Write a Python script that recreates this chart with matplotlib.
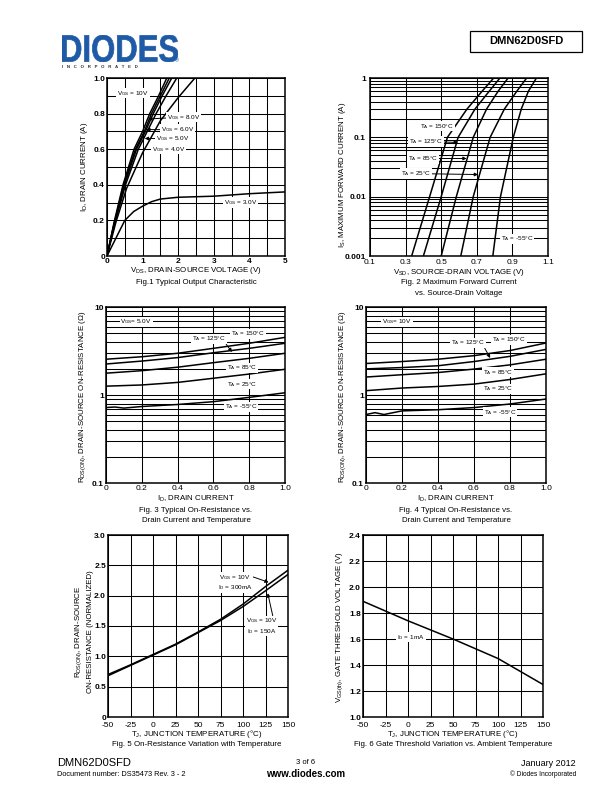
import numpy as np
import matplotlib.pyplot as plt
from matplotlib.patches import Rectangle, PathPatch
from matplotlib.textpath import TextPath
from matplotlib.font_manager import FontProperties

plt.rcParams['font.family'] = ['Liberation Sans', 'DejaVu Sans']
plt.rcParams['mathtext.default'] = 'regular'

W, H = 612, 792

# Fig 1 - typical output characteristic (VDS in V, ID in A)
vgs10_x = [0, 0.2, 0.45, 0.76, 1.0, 1.2, 1.45, 1.68]
vgs10_y = [0, 0.19, 0.4, 0.6, 0.7, 0.8, 0.9, 1.0]
vgs8_x = [0, 0.2, 0.47, 0.8, 1.05, 1.25, 1.5, 1.75]
vgs8_y = [0, 0.18, 0.4, 0.6, 0.7, 0.8, 0.9, 1.0]
vgs6_x = [0, 0.2, 0.49, 0.83, 1.08, 1.3, 1.55, 1.82]
vgs6_y = [0, 0.18, 0.4, 0.6, 0.7, 0.8, 0.9, 1.0]
vgs5_x = [0, 0.2, 0.52, 0.88, 1.13, 1.38, 1.66, 1.96]
vgs5_y = [0, 0.17, 0.4, 0.6, 0.7, 0.8, 0.9, 1.0]
vgs4_x = [0, 0.25, 0.55, 1.0, 1.5, 2.0, 2.47]
vgs4_y = [0, 0.19, 0.38, 0.58, 0.76, 0.89, 1.0]
vgs3_x = [0, 0.25, 0.5, 0.75, 1.0, 1.25, 1.5, 2.0, 3.0, 4.0, 5.0]
vgs3_y = [0, 0.1, 0.2, 0.25, 0.28, 0.305, 0.32, 0.33, 0.336, 0.35, 0.36]

# Fig 2 - forward current levels and VSD per temperature
if_levels = [0.001, 0.01, 0.1, 0.3, 0.6, 1.0]
vsd_150 = [0.334, 0.435, 0.535, 0.645, 0.73, 0.795]
vsd_125 = [0.40, 0.50, 0.595, 0.69, 0.77, 0.83]
vsd_85 = [0.50, 0.585, 0.68, 0.755, 0.82, 0.876]
vsd_25 = [0.61, 0.68, 0.775, 0.855, 0.925, 0.98]
vsd_m55 = [0.79, 0.833, 0.905, 0.95, 0.99, 1.035]

# Fig 3 - RDS(on) vs ID, VGS = 5V
id_pts = [0, 0.2, 0.4, 0.6, 0.8, 1.0]
r5_150 = [2.55, 2.72, 2.98, 3.39, 3.87, 4.52]
r5_125 = [2.25, 2.43, 2.66, 3.02, 3.39, 3.87]
r5_85 = [1.77, 1.89, 2.07, 2.33, 2.61, 2.98]
r5_25 = [1.26, 1.30, 1.39, 1.55, 1.73, 1.96]
id_m55 = [0, 0.05, 0.1, 0.2, 0.4, 0.6, 0.8, 1.0]
r5_m55 = [0.72, 0.73, 0.71, 0.74, 0.78, 0.84, 0.94, 1.06]

# Fig 4 - RDS(on) vs ID, VGS = 10V
r10_150 = [2.28, 2.4, 2.55, 2.8, 3.2, 3.9]
r10_125 = [1.98, 2.05, 2.15, 2.4, 2.75, 3.3]
r10_85 = [1.6, 1.7, 1.8, 1.97, 2.2, 2.55]
r10_25 = [1.12, 1.2, 1.25, 1.33, 1.5, 1.74]
r10_m55 = [0.6, 0.63, 0.6, 0.66, 0.68, 0.72, 0.79, 0.9]

# Fig 5 - normalized RDS(on) vs TJ
tj = [-50, -25, 0, 25, 50, 75, 100, 125, 150]
rn_300ma = [0.70, 0.86, 1.03, 1.20, 1.40, 1.61, 1.86, 2.15, 2.42]
rn_150ma = [0.68, 0.85, 1.02, 1.19, 1.39, 1.59, 1.82, 2.08, 2.35]

# Fig 6 - VGS(th) vs TA
ta = [-50, 0, 50, 100, 150]
vth = [1.89, 1.74, 1.60, 1.45, 1.25]


def rect(l, t, r, b):
    return [l / W, 1 - b / H, (r - l) / W, (b - t) / H]


def ftext(px, py, s, **kw):
    kw.setdefault('ha', 'center')
    kw.setdefault('va', 'center')
    fig.text(px / W, 1 - py / H, s, **kw)


def style(ax, xpad=1.5, ypad=1.5):
    ax.tick_params(which='both', length=0, labelsize=6)
    ax.tick_params(axis='x', pad=xpad)
    ax.tick_params(axis='y', pad=ypad)
    ax.grid(True, which='both', color='black', lw=0.75)
    for s in ax.spines.values():
        s.set_linewidth(1.1)
    for lbl in ax.get_yticklabels():
        lbl.set_fontweight('bold')


lw = 1.1
box = dict(fc='white', ec='none', pad=0.6)
arr = dict(arrowstyle='-|>', lw=0.7, color='black', mutation_scale=5, shrinkA=0, shrinkB=0)
lab = 4.6
fs = 5.7

fig = plt.figure(figsize=(W / 100, H / 100), dpi=100)

# ---- header
logo = TextPath((0, 0), 'DIODES', size=1, prop=FontProperties(family='Liberation Sans', weight='bold'))
lax = fig.add_axes(rect(62, 35, 178, 62))
lax.add_patch(PathPatch(logo, fc='#1f5aa6', ec='#1f5aa6', lw=0.5))
ext = logo.get_extents()
lax.set_xlim(ext.x0, ext.x1)
lax.set_ylim(ext.y0, ext.y1)
lax.axis('off')
ftext(62, 67, 'I   N   C   O   R   P   O   R   A   T   E   D', fontsize=3.2, ha='left', weight='bold', color='#333333')
ftext(177, 61, '®', fontsize=4, color='#1f5aa6')
fig.patches.append(Rectangle((470 / W, 1 - 52 / H), 112 / W, 21 / H, transform=fig.transFigure,
                             fill=False, ec='black', lw=0.9))
ftext(526, 41.5, 'DMN62D0SFD', fontsize=8, weight='bold')

# ---- Fig 1
ax1 = fig.add_axes(rect(107, 78, 285, 256))
for xs, ys in [(vgs10_x, vgs10_y), (vgs8_x, vgs8_y), (vgs6_x, vgs6_y), (vgs5_x, vgs5_y),
               (vgs4_x, vgs4_y), (vgs3_x, vgs3_y)]:
    ax1.plot(xs, ys, color='black', lw=lw)
ax1.set_xlim(0, 5)
ax1.set_ylim(0, 1.0)
ax1.set_xticks(range(6))
ax1.set_xticklabels([str(i) for i in range(6)])
ax1.set_xticks(np.arange(0.5, 5, 1.0), minor=True)
ax1.set_yticks([0, 0.2, 0.4, 0.6, 0.8, 1.0])
ax1.set_yticklabels(['0', '0.2', '0.4', '0.6', '0.8', '1.0'])
ax1.set_yticks([0.1, 0.3, 0.5, 0.7, 0.9], minor=True)
style(ax1)
for lbl in ax1.get_xticklabels():
    lbl.set_fontweight('bold')
ax1.text(0.73, 0.915, '$V_{GS}$ = 10V', fontsize=lab, ha='center', va='center', bbox=box)
ax1.annotate('$V_{GS}$ = 8.0V', xy=(1.15, 0.77), xytext=(2.16, 0.78), fontsize=lab,
             ha='center', va='center', bbox=box, arrowprops=arr)
ax1.annotate('$V_{GS}$ = 6.0V', xy=(1.1, 0.71), xytext=(1.99, 0.71), fontsize=lab,
             ha='center', va='center', bbox=box, arrowprops=arr)
ax1.annotate('$V_{GS}$ = 5.0V', xy=(1.06, 0.66), xytext=(1.84, 0.66), fontsize=lab,
             ha='center', va='center', bbox=box, arrowprops=arr)
ax1.text(1.72, 0.6, '$V_{GS}$ = 4.0V', fontsize=lab, ha='center', va='center', bbox=box)
ax1.text(3.74, 0.30, '$V_{GS}$ = 3.0V', fontsize=lab, ha='center', va='center', bbox=box)
ftext(196, 271, '$V_{DS}$, DRAIN-SOURCE VOLTAGE (V)', fontsize=fs)
ftext(196, 282, 'Fig.1 Typical Output Characteristic', fontsize=fs)
ftext(84, 167, '$I_D$, DRAIN CURRENT (A)', fontsize=fs, rotation=90)

# ---- Fig 2
ax2 = fig.add_axes(rect(370, 78, 548, 256))
for xs in [vsd_150, vsd_125, vsd_85, vsd_25, vsd_m55]:
    ax2.plot(xs, if_levels, color='black', lw=lw)
ax2.set_yscale('log')
ax2.set_xlim(0.1, 1.1)
ax2.set_ylim(0.001, 1)
ax2.set_xticks([0.1, 0.3, 0.5, 0.7, 0.9, 1.1])
ax2.set_xticklabels(['0.1', '0.3', '0.5', '0.7', '0.9', '1.1'])
ax2.set_yticks([0.001, 0.01, 0.1, 1])
ax2.set_yticklabels(['0.001', '0.01', '0.1', '1'])
ax2.set_yticks([m * 10.0 ** e for e in (-3, -2, -1) for m in range(2, 10)], minor=True)
ax2.yaxis.set_minor_formatter(plt.NullFormatter())
style(ax2, xpad=2, ypad=3)
ax2.text(0.476, 0.154, '$T_A$ = 150°C', fontsize=lab, ha='center', va='center', bbox=box)
ax2.annotate('$T_A$ = 125°C', xy=(0.594, 0.082), xytext=(0.415, 0.085), fontsize=lab,
             ha='center', va='center', bbox=box, arrowprops=arr)
ax2.annotate('$T_A$ = 85°C', xy=(0.643, 0.044), xytext=(0.398, 0.044), fontsize=lab,
             ha='center', va='center', bbox=box, arrowprops=arr)
ax2.annotate('$T_A$ = 25°C', xy=(0.707, 0.0236), xytext=(0.358, 0.0245), fontsize=lab,
             ha='center', va='center', bbox=box, arrowprops=arr)
ax2.text(0.926, 0.00195, '$T_A$ = -55°C', fontsize=lab, ha='center', va='center', bbox=box)
ftext(459, 272.5, '$V_{SD}$, SOURCE-DRAIN VOLTAGE (V)', fontsize=fs)
ftext(459, 283, 'Fig. 2 Maximum Forward Current', fontsize=fs)
ftext(459, 293, 'vs. Source-Drain Voltage', fontsize=fs)
ftext(342, 175, '$I_S$, MAXIMUM FORWARD CURRENT (A)', fontsize=fs, rotation=90)


def ron_axes(ax):
    ax.set_yscale('log')
    ax.set_xlim(0, 1.0)
    ax.set_ylim(0.1, 10)
    ax.set_xticks([0, 0.2, 0.4, 0.6, 0.8, 1.0])
    ax.set_xticklabels(['0', '0.2', '0.4', '0.6', '0.8', '1.0'])
    ax.set_yticks([0.1, 1, 10])
    ax.set_yticklabels(['0.1', '1', '10'])
    ax.set_yticks([m * 10.0 ** e for e in (-1, 0) for m in range(2, 10)], minor=True)
    ax.yaxis.set_minor_formatter(plt.NullFormatter())
    style(ax)


# ---- Fig 3
ax3 = fig.add_axes(rect(106, 307, 285, 483))
for ys in [r5_150, r5_125, r5_85, r5_25]:
    ax3.plot(id_pts, ys, color='black', lw=lw)
ax3.plot(id_m55, r5_m55, color='black', lw=lw)
ron_axes(ax3)
ax3.text(0.168, 6.76, '$V_{GS}$= 5.0V', fontsize=lab, ha='center', va='center', bbox=box)
ax3.text(0.793, 4.93, '$T_A$ = 150°C', fontsize=lab, ha='center', va='center', bbox=box)
ax3.annotate('$T_A$ = 125°C', xy=(0.704, 3.08), xytext=(0.575, 4.33), fontsize=lab,
             ha='center', va='center', bbox=box, arrowprops=dict(arr, relpos=(0.95, 0.2)))
ax3.text(0.76, 2.03, '$T_A$ = 85°C', fontsize=lab, ha='center', va='center', bbox=box)
ax3.text(0.76, 1.33, '$T_A$ = 25°C', fontsize=lab, ha='center', va='center', bbox=box)
ax3.text(0.754, 0.73, '$T_A$ = -55°C', fontsize=lab, ha='center', va='center', bbox=box)
ftext(196, 499, '$I_D$, DRAIN CURRENT', fontsize=fs)
ftext(196, 510, 'Fig. 3 Typical On-Resistance vs.', fontsize=fs)
ftext(196, 520, 'Drain Current and Temperature', fontsize=fs)
ftext(83, 397, '$R_{DS(ON)}$, DRAIN-SOURCE ON-RESISTANCE (Ω)', fontsize=fs, rotation=90)

# ---- Fig 4
ax4 = fig.add_axes(rect(366, 307, 546, 483))
for ys in [r10_150, r10_125, r10_85, r10_25]:
    ax4.plot(id_pts, ys, color='black', lw=lw)
ax4.plot(id_m55, r10_m55, color='black', lw=lw)
ron_axes(ax4)
ax4.text(0.172, 6.76, '$V_{GS}$= 10V', fontsize=lab, ha='center', va='center', bbox=box)
ax4.text(0.794, 4.22, '$T_A$ = 150°C', fontsize=lab, ha='center', va='center', bbox=box)
ax4.annotate('$T_A$ = 125°C', xy=(0.69, 2.63), xytext=(0.567, 3.9), fontsize=lab,
             ha='center', va='center', bbox=box, arrowprops=dict(arr, relpos=(0.95, 0.2)))
ax4.text(0.733, 1.82, '$T_A$ = 85°C', fontsize=lab, ha='center', va='center', bbox=box)
ax4.text(0.733, 1.17, '$T_A$ = 25°C', fontsize=lab, ha='center', va='center', bbox=box)
ax4.text(0.744, 0.64, '$T_A$ = -55°C', fontsize=lab, ha='center', va='center', bbox=box)
ftext(456, 499, '$I_D$, DRAIN CURRENT', fontsize=fs)
ftext(456, 510, 'Fig. 4 Typical On-Resistance vs.', fontsize=fs)
ftext(456, 520, 'Drain Current and Temperature', fontsize=fs)
ftext(343, 397, '$R_{DS(ON)}$, DRAIN-SOURCE ON-RESISTANCE (Ω)', fontsize=fs, rotation=90)

# ---- Fig 5
ax5 = fig.add_axes(rect(108, 535, 288, 717))
ax5.plot(tj, rn_300ma, color='black', lw=lw)
ax5.plot(tj, rn_150ma, color='black', lw=lw)
ax5.set_xlim(-50, 150)
ax5.set_ylim(0, 3.0)
ax5.set_xticks(tj)
ax5.set_xticklabels(['-50', '-25', '0', '25', '50', '75', '100', '125', '150'])
ax5.set_yticks([0, 0.5, 1.0, 1.5, 2.0, 2.5, 3.0])
ax5.set_yticklabels(['0', '0.5', '1.0', '1.5', '2.0', '2.5', '3.0'])
style(ax5, xpad=3.5)
ax5.annotate('$V_{GS}$ = 10V\n$I_D$ = 300mA', xy=(128.5, 2.22), xytext=(91, 2.22), fontsize=lab,
             ha='center', va='center', bbox=box, arrowprops=dict(arr, relpos=(1.0, 0.8)))
ax5.annotate('$V_{GS}$ = 10V\n$I_D$ = 150A', xy=(127.5, 2.04), xytext=(121, 1.5), fontsize=lab,
             ha='center', va='center', bbox=box, arrowprops=dict(arr, relpos=(0.85, 1.0)))
ftext(197, 734, '$T_J$, JUNCTION TEMPERATURE (°C)', fontsize=fs)
ftext(197, 745, 'Fig. 5 On-Resistance Variation with Temperature', fontsize=fs)
ftext(79, 632, '$R_{DS(ON)}$, DRAIN-SOURCE', fontsize=fs, rotation=90)
ftext(90, 632, 'ON-RESISTANCE (NORMALIZED)', fontsize=fs, rotation=90)

# ---- Fig 6
ax6 = fig.add_axes(rect(363, 535, 543, 717))
ax6.plot(ta, vth, color='black', lw=lw)
ax6.set_xlim(-50, 150)
ax6.set_ylim(1.0, 2.4)
ax6.set_xticks(tj)
ax6.set_xticklabels(['-50', '-25', '0', '25', '50', '75', '100', '125', '150'])
ax6.set_yticks([1.0, 1.2, 1.4, 1.6, 1.8, 2.0, 2.2, 2.4])
ax6.set_yticklabels(['1.0', '1.2', '1.4', '1.6', '1.8', '2.0', '2.2', '2.4'])
style(ax6, xpad=3.5)
ax6.text(3.3, 1.615, '$I_D$ = 1mA', fontsize=lab, ha='center', va='center', bbox=box)
ftext(453, 734, '$T_J$, JUNCTION TEMPERATURE (°C)', fontsize=fs)
ftext(453, 745, 'Fig. 6 Gate Threshold Variation vs. Ambient Temperature', fontsize=fs)
ftext(340, 627, '$V_{GS(th)}$, GATE THRESHOLD VOLTAGE (V)', fontsize=fs, rotation=90)

# ---- footer
ftext(57, 763, 'DMN62D0SFD', fontsize=8, ha='left')
ftext(57, 774, 'Document number: DS35473 Rev. 3 - 2', fontsize=5.3, ha='left')
ftext(306, 763, '3 of 6', fontsize=5.5)
ftext(306, 774, 'www.diodes.com', fontsize=7, weight='bold')
ftext(576, 763, 'January 2012', fontsize=6.5, ha='right')
ftext(576, 774, '© Diodes Incorporated', fontsize=4.8, ha='right')

fig.savefig('out.png', dpi=100)
